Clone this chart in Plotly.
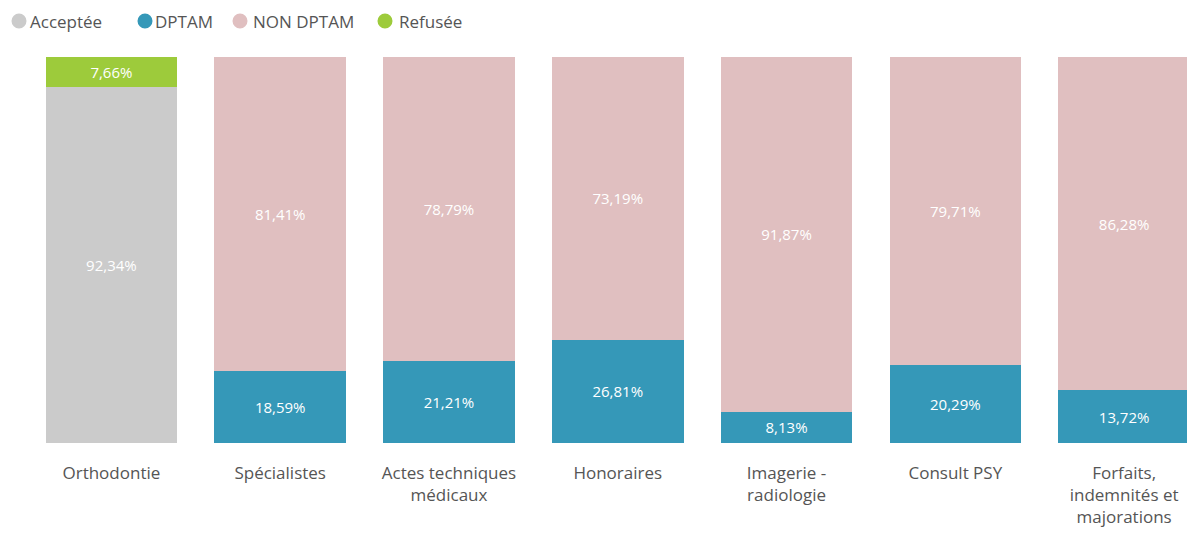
import plotly.graph_objects as go

categories = ["Orthodontie", "Spécialistes", "Actes techniques<br>médicaux", "Honoraires",
              "Imagerie -<br>radiologie", "Consult PSY", "Forfaits,<br>indemnités et<br>majorations"]
acceptee = [92.34, None, None, None, None, None, None]
dptam = [None, 18.59, 21.21, 26.81, 8.13, 20.29, 13.72]
non_dptam = [None, 81.41, 78.79, 73.19, 91.87, 79.71, 86.28]
refusee = [7.66, None, None, None, None, None, None]

series = [
    ("Acceptée", acceptee, "#cbcbcb"),
    ("DPTAM", dptam, "#3598b8"),
    ("NON DPTAM", non_dptam, "#e0bfc0"),
    ("Refusée", refusee, "#9dcb3b"),
]

FONT = "'Open Sans', Lato, sans-serif"
W, H = 1187, 527
ML, MT, MB = 19, 49, 92
PW = W - ML
PH = H - MT - MB

fig = go.Figure()
xs = list(range(len(categories)))
for name, vals, col in series:
    fig.add_trace(go.Bar(
        x=xs, y=vals, name=name, marker=dict(color=col, line=dict(width=0)),
        width=0.78, showlegend=False,
        texttemplate="%{y:.2f}%", textposition="inside", insidetextanchor="middle",
        textangle=0, constraintext="none",
        textfont=dict(color="white", size=15, family=FONT),
        hoverinfo="skip",
    ))

# compact legend: circle shape + label, positions in pixels from the figure's top-left
legend_circle_x = [11, 137, 232, 377]
legend_text_x = [21, 146, 244, 390]
LEG_Y = 1 + (MT - 13) / PH
for (name, _, col), cx, tx in zip(series, legend_circle_x, legend_text_x):
    fig.add_shape(
        type="circle", xref="paper", yref="paper",
        xsizemode="pixel", ysizemode="pixel",
        xanchor=(cx - ML) / PW, yanchor=LEG_Y,
        x0=-7.5, x1=7.5, y0=-7.5, y1=7.5,
        fillcolor=col, line=dict(width=0),
    )
    fig.add_annotation(
        text=name, xref="paper", yref="paper",
        x=(tx - ML) / PW, y=LEG_Y, xanchor="left", yanchor="middle",
        showarrow=False, borderpad=0,
        font=dict(size=17, color="#555555", family=FONT),
    )

fig.update_layout(
    barmode="stack",
    separators=", ",
    showlegend=False,
    width=W, height=H,
    margin=dict(l=ML, r=0, t=MT, b=MB),
    paper_bgcolor="white", plot_bgcolor="white",
    font=dict(family=FONT, color="#555555", size=17),
    xaxis=dict(range=[-0.5, 6.42], tickmode="array", tickvals=xs, ticktext=categories,
               showgrid=False, zeroline=False, showline=False, ticks="",
               automargin=False, ticklabelstandoff=18,
               tickfont=dict(size=17, color="#555555"), fixedrange=True),
    yaxis=dict(range=[0, 100], visible=False, showgrid=False, zeroline=False,
               automargin=False),
)
fig.write_html("out.html")
